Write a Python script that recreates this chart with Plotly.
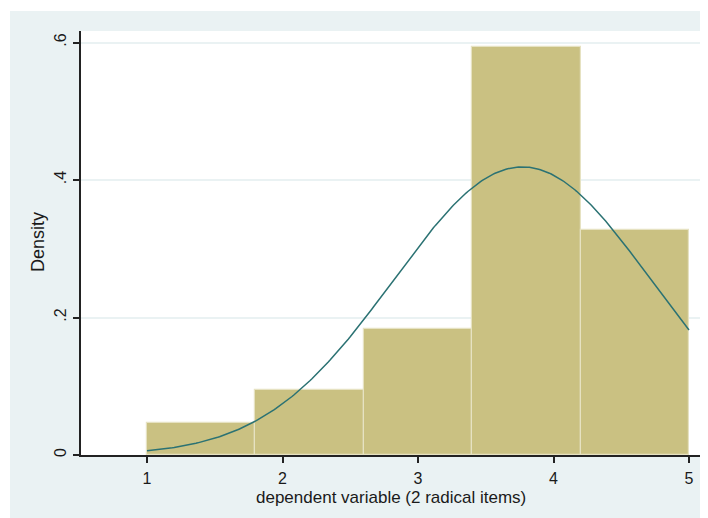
import numpy as np
import plotly.graph_objects as go

# ---- data ----
bin_left = [1.0, 1.8, 2.6, 3.4, 4.2]
bin_width = 0.8
density = [0.047, 0.094, 0.184, 0.594, 0.328]
normal_mean = 3.77
normal_sd = 0.952
curve_range = [1.0, 5.0]
x_ticks = [1, 2, 3, 4, 5]
y_ticks = [0, 0.2, 0.4, 0.6]
y_tick_labels = ["0", ".2", ".4", ".6"]
x_title = "dependent variable (2 radical items)"
y_title = "Density"

# page has an 8px body margin, so the figure starts at page (8, 8)
OFF = 8
W, H = 708 - OFF, 518 - OFF
L, R, T, B = 81 - OFF, 8, 31 - OFF, 63
pw, ph = W - L - R, H - T - B   # 619 x 424; plot spans page x 81..700, y 31..455


def px(page_x):
    return (page_x - 81) / pw


def py(page_y):
    return (455 - page_y) / ph


bar_x = [b + bin_width / 2 for b in bin_left]
xc = np.linspace(curve_range[0], curve_range[1], 300)
yc = np.exp(-0.5 * ((xc - normal_mean) / normal_sd) ** 2) / (normal_sd * np.sqrt(2 * np.pi))

fig = go.Figure()
fig.add_trace(go.Bar(
    x=bar_x, y=density, width=[bin_width] * len(bar_x),
    marker=dict(color="#CAC182", line=dict(color="#E6E2C2", width=1.2)),
    hoverinfo="skip", showlegend=False,
))
fig.add_trace(go.Scatter(
    x=xc, y=yc, mode="lines",
    line=dict(color="#2B7273", width=1.5),
    hoverinfo="skip", showlegend=False,
))

font = dict(family="Liberation Sans, Arial, sans-serif", color="#1a1a1a")

fig.update_layout(
    width=W, height=H,
    margin=dict(l=L, r=R, t=T, b=B, pad=0),
    paper_bgcolor="#EAF2F3",
    plot_bgcolor="#FFFFFF",
    bargap=0,
    font=dict(size=16, **font),
    xaxis=dict(
        range=[1 - 66 / 135.5, 5 + 11 / 135.5],
        tickvals=x_ticks, ticktext=[str(v) for v in x_ticks],
        ticks="outside", ticklen=6, tickwidth=1.5, tickcolor="#222",
        showline=True, linecolor="#222", linewidth=1.5,
        showgrid=False, zeroline=False,
        tickfont=dict(size=16, **font),
        ticklabelstandoff=2,
    ),
    yaxis=dict(
        range=[0, 424 / 687.5],
        tickvals=y_ticks, ticktext=y_tick_labels,
        tickangle=-90,
        ticks="outside", ticklen=6, tickwidth=1.5, tickcolor="#222",
        showline=True, linecolor="#222", linewidth=1.5,
        showgrid=True, gridcolor="#EAF2F3", gridwidth=1.5,
        zeroline=False,
        tickfont=dict(size=16, **font),
        ticklabelstandoff=1,
    ),
    shapes=[
        # white border strips (left and top) of the exported image
        dict(type="rect", xref="paper", yref="paper",
             x0=px(0), x1=px(10), y0=py(520), y1=py(0),
             fillcolor="white", line=dict(width=0), layer="below"),
        dict(type="rect", xref="paper", yref="paper",
             x0=px(0), x1=px(710), y0=py(11), y1=py(0),
             fillcolor="white", line=dict(width=0), layer="below"),
    ],
    annotations=[
        dict(text=x_title, xref="paper", yref="paper",
             x=px(391), y=py(497.5), xanchor="center", yanchor="middle",
             showarrow=False, font=dict(size=17, **font)),
        dict(text=y_title, xref="paper", yref="paper",
             x=px(38), y=py(242), xanchor="center", yanchor="middle",
             textangle=-90, showarrow=False, font=dict(size=18, **font)),
    ],
)

fig.write_html("out.html")
